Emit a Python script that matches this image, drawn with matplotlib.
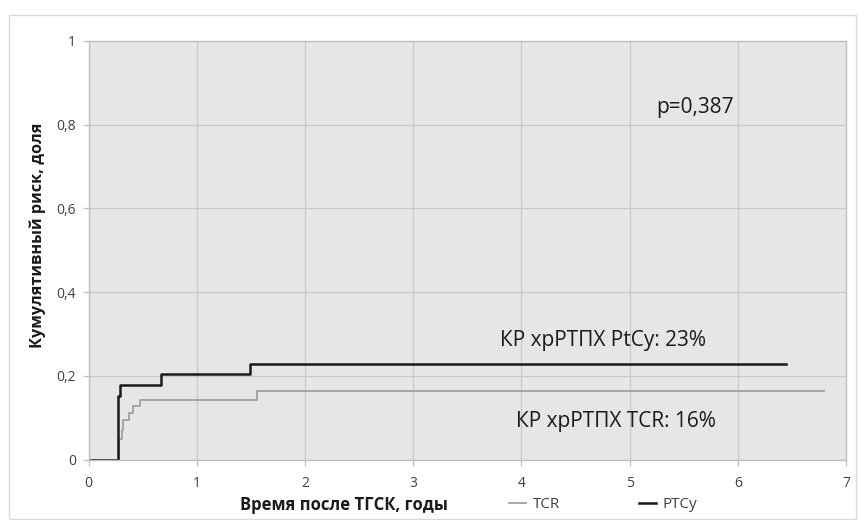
import matplotlib
matplotlib.use("Agg")
import matplotlib.pyplot as plt
from matplotlib.patches import Rectangle
from matplotlib.ticker import FuncFormatter

plt.rcParams['font.family'] = ['Open Sans', 'DejaVu Sans']

# cumulative incidence, step curves (years, share)
tcr_x = [0, 0.285, 0.307, 0.32, 0.377, 0.41, 0.48, 1.555, 6.80]
tcr_y = [0, 0.048, 0.07, 0.095, 0.11, 0.127, 0.143, 0.163, 0.163]
ptcy_x = [0, 0.275, 0.29, 0.667, 1.495, 6.45]
ptcy_y = [0, 0.152, 0.178, 0.204, 0.229, 0.229]

x_ticks = [0, 1, 2, 3, 4, 5, 6, 7]
y_ticks = [0, 0.2, 0.4, 0.6, 0.8, 1.0]

W, H = 865, 520
fig = plt.figure(figsize=(W / 100, H / 100), dpi=100)
fig.patches.append(Rectangle((9 / W, 0.002), (856 - 9) / W, 1 - 15 / H - 0.002,
                             transform=fig.transFigure, fill=False,
                             edgecolor='#d9d9d9', linewidth=1))

ax = fig.add_axes([88.5 / W, 1 - 459.5 / H, (846 - 88.5) / W, (459.5 - 41) / H])
ax.set_facecolor('#e6e6e6')
ax.set_xlim(0, 7)
ax.set_ylim(0, 1)
ax.set_xticks(x_ticks)
ax.set_yticks(y_ticks)
ax.yaxis.set_major_formatter(FuncFormatter(lambda v, p: ('%g' % v).replace('.', ',')))
ax.grid(True, color='#c8c8c8', linewidth=0.9)
ax.set_axisbelow(True)
for s in ax.spines.values():
    s.set_color('#bfbfbf')
    s.set_linewidth(1)
ax.tick_params(colors='#bfbfbf', labelcolor='#404040', labelsize=10, length=4, width=0.9)
ax.tick_params(axis='x', pad=8)
ax.tick_params(axis='y', pad=5)

l1, = ax.step(tcr_x, tcr_y, where='post', color='#a0a0a0', linewidth=1.3, label='TCR')
l2, = ax.step(ptcy_x, ptcy_y, where='post', color='#1a1a1a', linewidth=1.8, label='PTCy')

ax.text(5.25, 0.84, 'p=0,387', fontsize=15, color='#1a1a1a', va='center', ha='left')
ax.text(3.80, 0.285, 'КР хрРТПХ PtCy: 23%', fontsize=15, color='#1a1a1a', va='center', ha='left')
ax.text(3.95, 0.09, 'КР хрРТПХ TCR: 16%', fontsize=15, color='#1a1a1a', va='center', ha='left')

fig.text(240 / W, 1 - 505 / H, 'Время после ТГСК, годы', fontsize=12, fontweight='bold',
         color='#1a1a1a', va='center', ha='left')
fig.text(38 / W, 1 - 235 / H, 'Кумулятивный риск, доля', fontsize=11.7, fontweight='bold',
         color='#1a1a1a', va='center', ha='center', rotation=90)

fig.legend(handles=[l1, l2], loc='center left', bbox_to_anchor=(495 / W, 1 - 505 / H),
           ncol=2, frameon=False, fontsize=11, handlelength=1.1, handletextpad=0.45,
           columnspacing=5.2, labelcolor='#404040')

fig.savefig('out.png', dpi=100)
